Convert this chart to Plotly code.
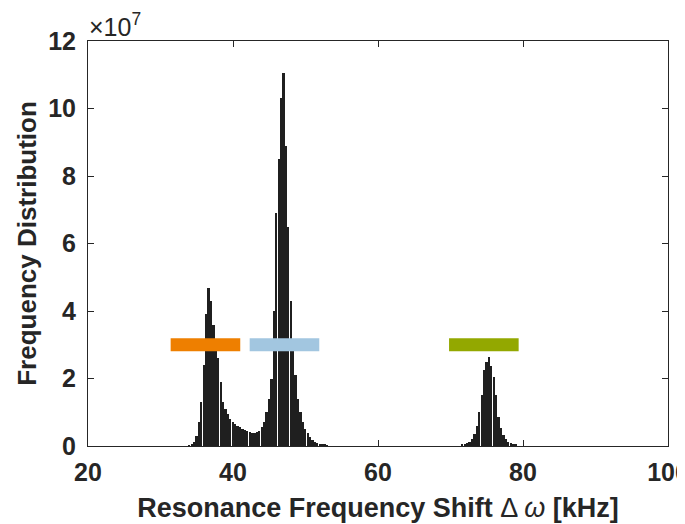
import plotly.graph_objects as go

# Histogram bin centres (kHz) and counts (x1e7)
freq_a = [34.0, 34.33, 34.67, 35.0, 35.33, 35.67, 36.0, 36.33, 36.67, 37.0, 37.33, 37.67,
          38.0, 38.33, 38.67, 39.0, 39.33, 39.67, 40.0, 40.33, 40.67, 41.0, 41.33, 41.67,
          42.0, 42.33, 42.67, 43.0, 43.33, 43.67, 44.0, 44.33, 44.67, 45.0, 45.33, 45.67,
          46.0, 46.33, 46.67, 47.0, 47.33, 47.67, 48.0, 48.33, 48.67, 49.0, 49.33, 49.67,
          50.0, 50.33, 50.67, 51.0, 51.33, 51.67, 52.0, 52.33, 52.67, 53.0]
count_a = [0.02, 0.05, 0.12, 0.3, 0.7, 1.3, 2.4, 3.9, 4.68, 4.3, 3.6, 3.0,
           2.6, 1.9, 1.3, 1.1, 0.95, 0.8, 0.72, 0.65, 0.6, 0.55, 0.5, 0.47,
           0.45, 0.42, 0.4, 0.4, 0.42, 0.45, 0.55, 0.7, 1.0, 1.4, 2.0, 4.0,
           6.9, 8.5, 10.3, 11.05, 8.9, 6.5, 4.3, 2.85, 2.1, 1.4, 1.0, 0.7,
           0.5, 0.38, 0.28, 0.18, 0.12, 0.09, 0.06, 0.04, 0.03, 0.02]
freq_b = [71.67, 72.0, 72.33, 72.67, 73.0, 73.33, 73.67, 74.0, 74.33, 74.67, 75.0, 75.33,
          75.67, 76.0, 76.33, 76.67, 77.0, 77.33, 77.67, 78.0, 78.33, 78.67, 79.0]
count_b = [0.03, 0.05, 0.08, 0.12, 0.2, 0.35, 0.6, 1.0, 1.5, 2.25, 2.5, 2.65,
           2.37, 2.05, 1.5, 0.87, 0.53, 0.33, 0.2, 0.13, 0.08, 0.05, 0.03]

# Coloured range markers: start, end (kHz), level (x1e7), colour
range_start = [31.4, 42.3, 69.8]
range_end = [41.0, 51.9, 79.4]
range_level = [3.0, 3.0, 3.0]
range_colors = ["#EE7F00", "#A2C6E0", "#93A800"]

x_ticks = [20, 40, 60, 80, 100]
y_ticks = [0, 2, 4, 6, 8, 10, 12]

SCALE = 1e7
freqs = freq_a + freq_b
counts = [c * SCALE for c in count_a + count_b]

fig = go.Figure()
fig.add_trace(go.Bar(x=freqs, y=counts, width=0.24,
                     marker=dict(color="#1f1f1f", line=dict(width=0)),
                     showlegend=False))
for s, e, lv, c in zip(range_start, range_end, range_level, range_colors):
    fig.add_trace(go.Scatter(x=[s, e], y=[lv * SCALE, lv * SCALE], mode="lines",
                             line=dict(color=c, width=13), showlegend=False))

font_family = "Liberation Sans, Arial, sans-serif"
tick_font = dict(size=25, family=font_family, weight="bold", color="#262626")
fig.update_layout(
    width=685, height=524,
    margin=dict(l=80, r=25, t=33, b=86),
    paper_bgcolor="white", plot_bgcolor="white",
    font=dict(family=font_family, color="#262626"),
    xaxis=dict(range=[20, 100], tickvals=x_ticks, ticktext=[str(t) for t in x_ticks],
               ticks="inside", ticklen=6, tickcolor="#262626", showgrid=False, zeroline=False,
               showline=True, linecolor="#262626", linewidth=1, mirror="ticks",
               automargin=False, ticklabelstandoff=4,
               tickfont=tick_font,
               title=dict(text="<b>Resonance Frequency Shift </b>Δ <i>ω</i><b> [kHz]</b>",
                          font=dict(size=27, family=font_family, color="#262626"), standoff=13)),
    yaxis=dict(range=[0, 12 * SCALE], tickvals=[t * SCALE for t in y_ticks],
               ticktext=[str(t) for t in y_ticks],
               ticks="inside", ticklen=6, tickcolor="#262626", showgrid=False, zeroline=False,
               showline=True, linecolor="#262626", linewidth=1, mirror="ticks",
               automargin=False, ticklabelstandoff=6,
               tickfont=tick_font,
               title=dict(text="<b>Frequency Distribution</b>",
                          font=dict(size=26, family=font_family, color="#262626"), standoff=4)),
    bargap=0,
)
fig.add_annotation(x=0, y=1, xref="paper", yref="paper", xanchor="left", yanchor="bottom",
                   text="×10<sup>7</sup>", showarrow=False, yshift=-2, xshift=-1,
                   font=dict(size=25, family=font_family, color="#262626"))

fig.write_html("out.html")
